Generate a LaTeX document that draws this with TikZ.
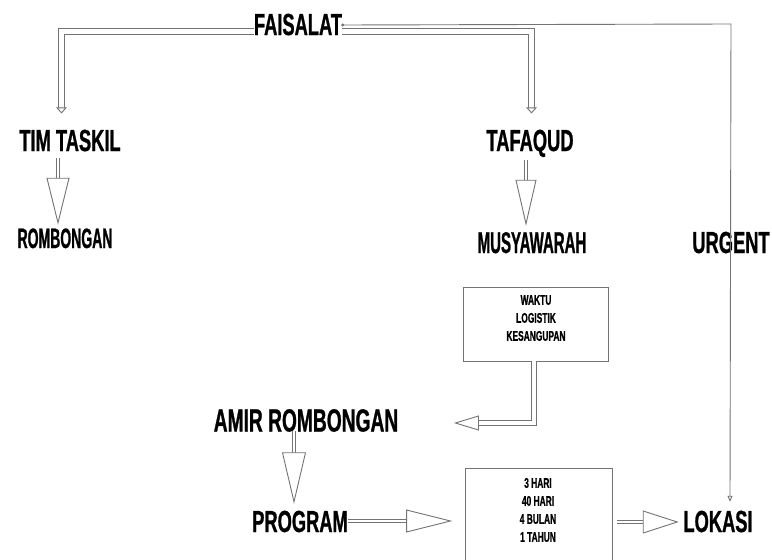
\documentclass[tikz,border=0pt]{standalone}
\usepackage{fontspec}
\newfontfamily\bebas{Liberation Sans Bold}[FakeStretch=0.6, FakeBold=0.8]
\newfontfamily\bebasn{Liberation Sans Bold}[FakeStretch=0.5, FakeBold=0.8]
\usepackage{tikz}
\usetikzlibrary{arrows.meta,calc}

\tikzset{
  big/.style={inner sep=0pt, text height=22pt, text depth=0pt, font=\bebas\fontsize{30.5}{30}\selectfont},
  bign/.style={big, font=\bebasn\fontsize{30}{30}\selectfont},
  small/.style={inner sep=0pt, align=center, font=\bebas\fontsize{14}{18}\selectfont},
  ln/.style={draw=black!55, line width=0.9pt},
  infobox/.style={ln, rectangle, inner sep=0pt},
  dbl/.style={ln, double=white, double distance=#1},
  dbl/.default=2.5pt,
  head/.style={ln, fill=white, to path={($(\tikztostart)!#1!90:(\tikztotarget)$) -- (\tikztotarget) -- ($(\tikztostart)!#1!-90:(\tikztotarget)$) -- cycle}},
}

\begin{document}
\begin{tikzpicture}[x=1pt,y=-1pt]
    \path[use as bounding box] (0,0) rectangle (772,560);
    \clip (0,0) rectangle (772,560);
    % labels
    \node[big] (faisalat) at (298,24) {FAISALAT};
    \node[big] (timtaskil) at (70,140) {TIM TASKIL};
    \node[bign, font=\bebasn\fontsize{28}{28}\selectfont, text height=20pt] (rombongan) at (65,238) {ROMBONGAN};
    \node[big] (tafaqud) at (530,140) {TAFAQUD};
    \node[bign] (musyawarah) at (532,242) {MUSYAWARAH};
    \node[big] (urgent) at (731,242) {URGENT};
    \node[big, font=\bebas\fontsize{32}{32}\selectfont, text height=23pt] (amir) at (306,420) {AMIR ROMBONGAN};
    \node[big] (program) at (300,521) {PROGRAM};
    \node[big, text height=20pt] (lokasi) at (718,522) {LOKASI};
    % boxes
    \node[infobox, minimum width=145pt, minimum height=74pt] (waktu) at (535.5,324) {};
    \node[small] (waktutext) at (536,318) {WAKTU\\LOGISTIK\\KESANGUPAN};
    \node[infobox, minimum width=147pt, minimum height=112pt] (hari) at (538.5,524) {};
    \node[small] (haritext) at (538,510) {3 HARI\\40 HARI\\4 BULAN\\1 TAHUN};
    % faisalat branches
    \draw[dbl=4.5pt] ([shift={(0,7.5)}]faisalat.west) -| ([shift={(-8.5,-21)}]timtaskil.north) coordinate (c1);
    \draw[head=4.5pt] (c1) to ([shift={(-8.5,-16)}]timtaskil.north);
    \draw[dbl=4.5pt] ([shift={(0,7.5)}]faisalat.east) -| ([shift={(1.5,-21)}]tafaqud.north) coordinate (c2);
    \draw[head=4.5pt] (c2) to ([shift={(1.5,-16)}]tafaqud.north);
    \draw[ln, {Circle[length=3pt]}-{Triangle[open,length=6pt,width=5pt]}] ([shift={(-1,1)}]faisalat.east) -- (faisalat.east -| urgent.center) -- ([shift={(12,-10)}]lokasi.north);
    % down arrows
    \draw[dbl] ([shift={(-12,7)}]timtaskil.south) -- ++(0,20) coordinate (c3);
    \draw[head=11pt] (c3) to ([shift={(-7,-5)}]rombongan.north);
    \draw[dbl] ([shift={(-4,9)}]tafaqud.south) -- ++(0,20) coordinate (c4);
    \draw[head=10pt] (c4) to ([shift={(-6,-7)}]musyawarah.north);
    \draw[dbl] ([shift={(-12,-1)}]amir.south) -- ++(0,22) coordinate (c5);
    \draw[head=11.5pt] (c5) to ([shift={(-6,-8)}]program.north);
    % waktu to amir
    \draw[dbl=3.5pt] ([xshift=-1.5pt]waktu.south) |- ([shift={(80,3)}]amir.east) coordinate (c6);
    \draw[head=7pt] (c6) to ([shift={(57,3)}]amir.east);
    % program to box to lokasi
    \draw[dbl] (program.east) -- ($(program.east -| hari.west)+(-58,0)$) coordinate (c7);
    \draw[head=11pt] (c7) to ($(program.east -| hari.west)+(-14,0)$);
    \draw[dbl] ($(lokasi.west)+(-66,0)$) -- ($(lokasi.west)+(-40,0)$) coordinate (c8);
    \draw[head=11pt] (c8) to ($(lokasi.west)+(-6,0)$);
\end{tikzpicture}
\end{document}
